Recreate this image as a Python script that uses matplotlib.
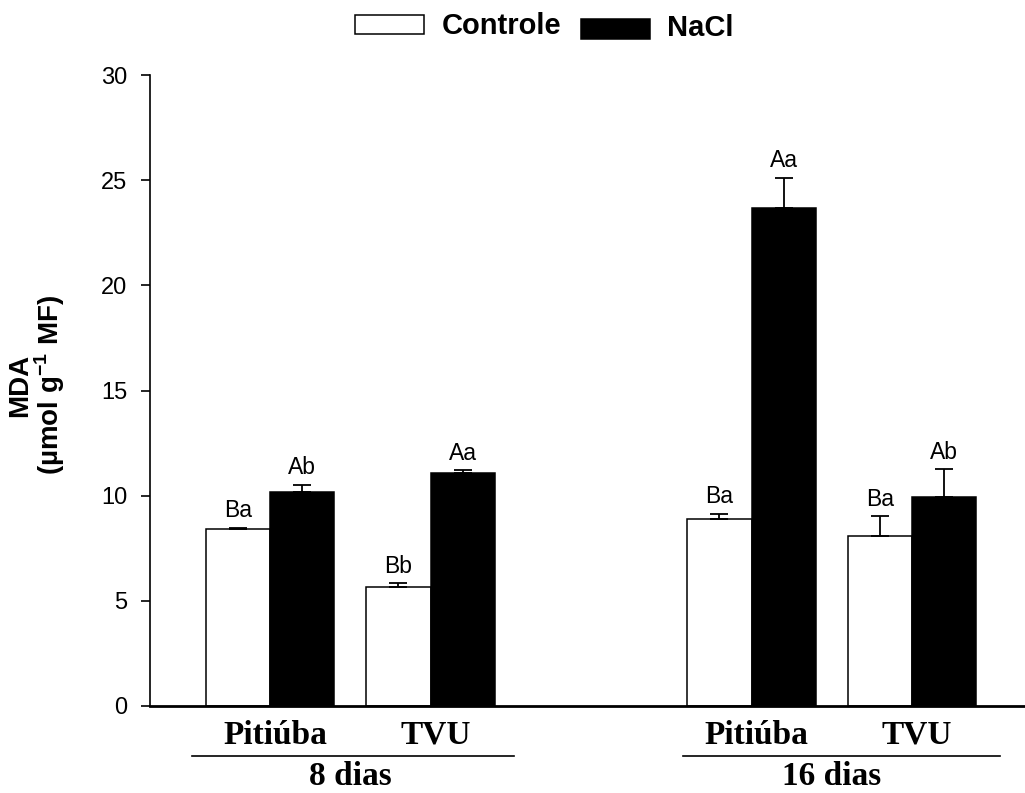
import matplotlib
matplotlib.use("Agg")
import matplotlib.pyplot as plt
from matplotlib.patches import Rectangle
import numpy as np

plt.rcParams['font.family'] = ['Liberation Sans', 'DejaVu Sans']
plt.rcParams['mathtext.fontset'] = 'custom'
plt.rcParams['mathtext.rm'] = 'Liberation Sans'
plt.rcParams['mathtext.bf'] = 'Liberation Sans:bold'

# ---- data ----
days = ["8 dias", "16 dias"]
cultivars = ["Pitiúba", "TVU", "Pitiúba", "TVU"]
controle = [8.40, 5.65, 8.88, 8.10]
controle_err = [0.07, 0.18, 0.25, 0.93]
nacl = [10.16, 11.10, 23.70, 9.94]
nacl_err = [0.35, 0.10, 1.42, 1.32]
controle_letters = ["Ba", "Bb", "Ba", "Ba"]
nacl_letters = ["Ab", "Aa", "Aa", "Ab"]
yticks = [0, 5, 10, 15, 20, 25, 30]

# ---- layout ----
W, H = 1025, 793
fig = plt.figure(figsize=(W / 100, H / 100), dpi=100)
ax = fig.add_axes([150 / W, (H - 706) / H, 1 - 150 / W, (706 - 75) / H])

group_pos = np.array([1.87, 4.37, 9.37, 11.87])
bw = 1.0
ax.bar(group_pos - bw / 2, controle, width=bw, color="white", edgecolor="black",
       linewidth=1.1, zorder=2)
ax.bar(group_pos + bw / 2, nacl, width=bw, color="black", edgecolor="black",
       linewidth=1.1, zorder=2)
ekw = dict(fmt="none", ecolor="black", elinewidth=1.3, capsize=6.5, capthick=1.3, zorder=3)
ax.errorbar(group_pos - bw / 2, controle, yerr=[np.zeros(4), controle_err], **ekw)
ax.errorbar(group_pos + bw / 2, nacl, yerr=[np.zeros(4), nacl_err], **ekw)

for x, v, e, t in zip(group_pos - bw / 2, controle, controle_err, controle_letters):
    ax.annotate(t, (x, v + e), xytext=(0, 4), textcoords="offset points",
                ha="center", va="bottom", fontsize=16.5)
for x, v, e, t in zip(group_pos + bw / 2, nacl, nacl_err, nacl_letters):
    ax.annotate(t, (x, v + e), xytext=(0, 4), textcoords="offset points",
                ha="center", va="bottom", fontsize=16.5)

ax.set_xlim(0, 13.63)
ax.set_ylim(0, 30)
ax.set_yticks(yticks)
ax.set_xticks([])
ax.tick_params(axis="y", direction="out", length=6.5, width=1.2, labelsize=17, pad=10)
for s in ["top", "right"]:
    ax.spines[s].set_visible(False)
ax.spines["left"].set_linewidth(1.2)
ax.spines["bottom"].set_linewidth(2.0)

# cultivar labels
serif = dict(family=["Liberation Serif", "DejaVu Serif"], fontweight="bold")
trans = ax.get_xaxis_transform()
for x, c in zip(group_pos, cultivars):
    ax.text(x + 0.08, -(744 - 706) / (706 - 75), c, transform=trans, ha="center",
            va="baseline", fontsize=24, **serif)

# day labels and underlines
day_centers = [(group_pos[0] + group_pos[1]) / 2, (group_pos[2] + group_pos[3]) / 2]
line_spans = [(192, 514), (683, 1000)]
for dc, d, (x0, x1) in zip(day_centers, days, line_spans):
    ax.text(dc, -(792 - 706) / (706 - 75), d, transform=trans, ha="center",
            va="bottom", fontsize=24, **serif)
    fig.add_artist(plt.Line2D([x0 / W, x1 / W], [(H - 756) / H] * 2, color="black",
                              linewidth=1.2, transform=fig.transFigure))

# legend (manual)
fig.add_artist(Rectangle((355 / W, (H - 34) / H), 69 / W, 19 / H, facecolor="white",
                         edgecolor="black", linewidth=1.1, transform=fig.transFigure))
fig.text(442 / W, (H - 25.5) / H, "Controle", ha="left", va="center",
         fontsize=21, fontweight="bold")
fig.add_artist(Rectangle((581 / W, (H - 39) / H), 69 / W, 20 / H, facecolor="black",
                         edgecolor="black", linewidth=1.1, transform=fig.transFigure))
fig.text(667 / W, (H - 28) / H, "NaCl", ha="left", va="center",
         fontsize=21, fontweight="bold")

# y label
fig.text(37 / W, (H - 385) / H, "MDA\n(µmol g$^{\\mathbf{-1}}$ MF)", rotation=90,
         ha="center", va="center", fontsize=20, fontweight="bold",
         multialignment="center", linespacing=1.0)

fig.savefig("out.png", dpi=100)
